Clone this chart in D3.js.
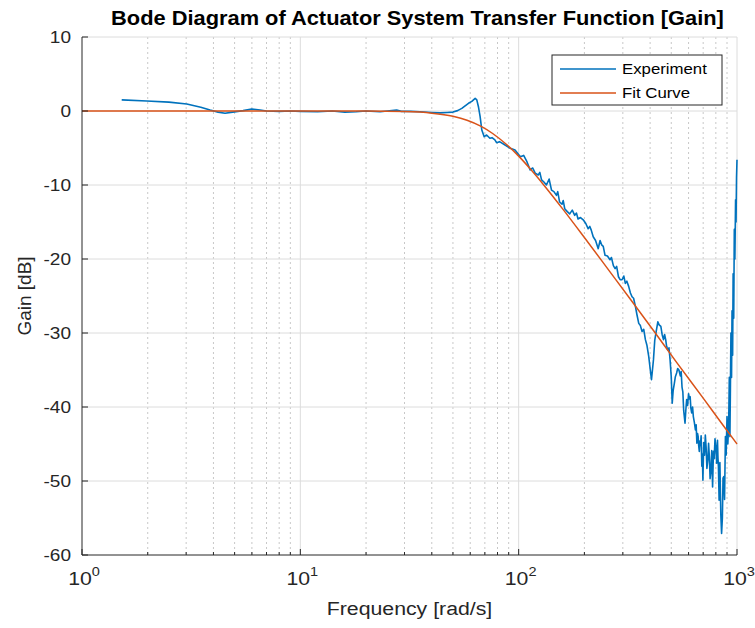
<!DOCTYPE html>
<html>
<head>
<meta charset="utf-8">
<script src="https://cdn.jsdelivr.net/npm/d3@7"></script>
<style>
  body { margin: 0; background: #fff; }
  svg { font-family: "Liberation Sans", Arial, Helvetica, sans-serif; }
</style>
</head>
<body>
<div id="plot"></div>
<script>
// measured experiment (frequency in rad/s, gain in dB)
var expFreq = [1.52, 1.98, 2.5, 3.02, 3.5, 3.86, 4.2, 4.52, 4.9, 5.47, 5.99, 6.54, 7.0, 8.0, 9.0, 10, 12, 14, 16, 18, 20,
  23.2, 25, 27.6, 29, 32, 35.3, 40, 43.6, 47, 50, 52.5, 54.9, 58.9, 61, 63.2, 64.3, 65.5, 66.6, 67.8, 69.5, 71.3,
  73.8, 75.5, 77.8, 79.2, 81.7, 86.6, 91.5, 96.2, 101.8, 105.4, 109.1, 112.9, 116, 119, 122.9, 125, 127.3, 130.5, 134,
  137.9, 141.4, 145, 149, 151, 154, 158, 160, 162.5, 167, 171.3, 176, 180.6, 184, 187, 192, 197.5, 203, 208, 211.8, 215, 219.5, 225,
  231.4, 236, 240, 244, 248.7, 255, 262, 266, 271.5, 276.5, 281, 286.5, 291.6, 297.5, 303, 308, 313, 319, 325, 330.6, 336, 342.5, 348, 354.8,
  361, 367.4, 374, 380.6, 387, 394.3, 400, 405.8, 410, 414.4, 420, 425.3, 433.9, 440, 447.9, 454, 460.4, 466, 471.4, 476,
  481.9, 488, 493.7, 500, 505, 510, 516.5, 522, 529, 535, 542, 550, 555, 560, 565, 570, 578, 583, 588, 594, 600, 605, 610, 615, 620, 626, 631, 638, 645, 650, 655, 660, 664, 668, 672,
  676, 680, 685, 690, 694, 698, 704, 710, 716, 722, 728, 735, 741, 747, 753, 760, 766, 773, 780, 786, 793, 800, 807, 814, 818, 822, 828, 835, 843, 850, 857, 863, 870, 877, 885, 892, 900, 908, 916, 922,
  928, 932, 938, 944, 949, 955, 960, 966, 972, 978, 985, 990, 995, 1000];
var expGain = [1.5, 1.35, 1.2, 0.95, 0.5, 0.13, -0.15, -0.3, -0.15, 0.05, 0.27, 0.13, 0.0, -0.05, 0.0, -0.05, -0.1, 0.0, -0.15, -0.1, 0.0,
  -0.1, 0.0, 0.13, -0.05, -0.05, -0.1, -0.2, -0.25, -0.2, -0.15, 0.05, 0.36, 1.04, 1.3, 1.7, 1.5, 0.5, -0.77, -2.57, -3.47, -3.24,
  -3.69, -3.6, -3.9, -4.28, -4.14, -4.6, -5.04, -5.27, -6.18, -6.0, -6.85, -7.97, -7.7, -8.4, -8.65, -8.3, -9.3, -9.6, -10.0,
  -9.2, -10.7, -10.9, -11.4, -10.9, -12.3, -12.6, -12.1, -13.2, -13.6, -13.9, -13.4, -14.1, -13.8, -14.6, -14.4, -14.7, -15.2, -15.9, -15.6, -16.1, -17, -17.5,
  -18.6, -17.5, -18.1, -18.3, -19.5, -19.6, -20.1, -19.8, -20.9, -21.3, -21.0, -22.4, -22.8, -22.8, -22.3, -23.3, -23.0, -23.7, -24.6, -25.1, -25.3, -26.4, -27.5, -28.7,
  -29.0, -29.8, -29.5, -30.9, -31.7, -33.2, -34.8, -36.3, -35.0, -33.6, -31.0, -30.0, -28.5, -28.9, -29.1, -30.2, -30.9, -30.2, -30.9, -31.8,
  -32.3, -32.0, -33.6, -36.0, -39.5, -37.8, -36.8, -35.9, -35.4, -34.8, -35.0, -35.8, -35.2, -37.3, -38.0, -40.5, -42.2, -40.4, -39.0, -39.8, -38.2, -38.9, -38.6, -40.2, -40.8, -40.0, -41.3, -42.1, -43.1, -42.4, -44.9, -43.6, -44.0, -45.3, -46.0,
  -44.6, -45.2, -43.9, -48.0, -46.4, -49.9, -44.8, -46.5, -43.8, -45.4, -48.3, -47.2, -44.9, -46.7, -49.7, -48.5, -45.9, -50.8, -46.0, -47.0, -44.3, -45.4, -47.6, -44.5, -46.8, -48.0, -52.6, -47.5, -54.5, -57.1, -55.0, -49.6, -49.4, -52.5, -44.0, -46.5, -41.3, -45.0, -42.2, -36,
  -44, -38.6, -30, -36, -27, -33, -22, -28, -16, -20, -12, -15, -9, -6.6];

// fitted curve
var fitFreq = [1, 10, 20, 30, 40, 50, 58, 67, 76, 88, 100, 115, 130, 160, 200, 260, 330, 420, 530, 700, 870, 1000];
var fitGain = [0, 0, -0.01, -0.08, -0.29, -0.72, -1.25, -2.05, -3.04, -4.53, -6.1, -8.08, -9.96, -13.33, -17.1, -21.6, -25.7, -29.9, -34.0, -38.8, -42.6, -45.0];

var yTicks = [10, 0, -10, -20, -30, -40, -50, -60];
var xDecades = [1, 10, 100, 1000];
var legendNames = ["Experiment", "Fit Curve"];
var colors = ["#0072BD", "#D95319"];

var W = 755, H = 628;
var margin = {top: 37, left: 82, right: 18, bottom: 73};
var iw = W - margin.left - margin.right, ih = H - margin.top - margin.bottom;
var sx = 1.12; // text in the picture is a bit wide

var svg = d3.select("#plot").append("svg").attr("width", W).attr("height", H);
var g = svg.append("g").attr("transform", "translate(" + margin.left + "," + margin.top + ")");

var x = d3.scaleLog().domain([1, 1000]).range([0, iw]);
var y = d3.scaleLinear().domain([-60, 10]).range([ih, 0]);

// minor ticks 2..9 of each decade
var minor = [];
xDecades.slice(0, 3).forEach(function(d) {
  for (var k = 2; k <= 9; k++) minor.push(d * k);
});

// grid
g.selectAll(".minorGrid").data(minor).enter().append("line")
  .attr("x1", d => x(d)).attr("x2", d => x(d)).attr("y1", 0).attr("y2", ih)
  .attr("stroke", "#c8c8c8").attr("stroke-dasharray", "2,3").attr("stroke-width", 1);
g.selectAll(".xGrid").data(xDecades.slice(1)).enter().append("line")
  .attr("x1", d => x(d)).attr("x2", d => x(d)).attr("y1", 0).attr("y2", ih)
  .attr("stroke", "#dcdcdc").attr("stroke-width", 1);
g.selectAll(".yGrid").data(yTicks.slice(0, -1)).enter().append("line")
  .attr("x1", 0).attr("x2", iw).attr("y1", d => y(d)).attr("y2", d => y(d))
  .attr("stroke", "#dcdcdc").attr("stroke-width", 1);

// curves
var line = d3.line().x(d => x(d[0])).y(d => y(d[1]));
var expData = expFreq.map((f, i) => [f, expGain[i]]);
var fitData = fitFreq.map((f, i) => [f, fitGain[i]]);

g.append("path").datum(expData).attr("d", line).attr("fill", "none")
  .attr("stroke", colors[0]).attr("stroke-width", 1.6).attr("stroke-linejoin", "round");
g.append("path").datum(fitData).attr("d", line.curve(d3.curveMonotoneX)).attr("fill", "none")
  .attr("stroke", colors[1]).attr("stroke-width", 1.5);

// axes
var axisCol = "#262626";
g.append("line").attr("x1", 0).attr("x2", 0).attr("y1", 0).attr("y2", ih).attr("stroke", axisCol);
g.append("line").attr("x1", 0).attr("x2", iw).attr("y1", ih).attr("y2", ih).attr("stroke", axisCol);

g.selectAll(".ytick").data(yTicks).enter().append("line")
  .attr("x1", 0).attr("x2", 6).attr("y1", d => y(d)).attr("y2", d => y(d)).attr("stroke", axisCol);
g.selectAll(".ylab").data(yTicks).enter().append("text")
  .attr("transform", d => "translate(-11," + y(d) + ") scale(" + sx + ",1)").attr("dy", "0.35em")
  .attr("text-anchor", "end").attr("font-size", 17).attr("fill", axisCol)
  .text(d => d);

g.selectAll(".xtick").data(xDecades).enter().append("line")
  .attr("x1", d => x(d)).attr("x2", d => x(d)).attr("y1", ih).attr("y2", ih - 6).attr("stroke", axisCol);
g.selectAll(".xminortick").data(minor).enter().append("line")
  .attr("x1", d => x(d)).attr("x2", d => x(d)).attr("y1", ih).attr("y2", ih - 3).attr("stroke", axisCol);

var xl = g.selectAll(".xlab").data(xDecades).enter().append("text")
  .attr("transform", d => "translate(" + (x(d) + 2) + "," + (ih + 30) + ") scale(" + sx + ",1)")
  .attr("text-anchor", "middle").attr("font-size", 19).attr("fill", axisCol);
xl.append("tspan").text("10");
xl.append("tspan").attr("dy", -9).attr("font-size", 13).text(d => Math.round(Math.log10(d)));

// labels
svg.append("text").attr("transform", "translate(" + (margin.left + iw / 2) + ",615) scale(" + sx + ",1)")
  .attr("text-anchor", "middle").attr("font-size", 19).attr("fill", axisCol)
  .text("Frequency [rad/s]");
svg.append("text").attr("transform", "translate(31," + (margin.top + ih / 2) + ") rotate(-90)")
  .attr("text-anchor", "middle").attr("font-size", 19).attr("fill", axisCol)
  .text("Gain [dB]");
svg.append("text").attr("transform", "translate(" + (margin.left + iw / 2 + 8) + ",25) scale(" + sx + ",1)")
  .attr("text-anchor", "middle").attr("font-size", 19.5).attr("font-weight", "bold").attr("fill", "#000")
  .text("Bode Diagram of Actuator System Transfer Function [Gain]");

// legend
var lg = svg.append("g").attr("transform", "translate(552,55)");
lg.append("rect").attr("width", 170).attr("height", 50).attr("fill", "#fff").attr("stroke", "#262626").attr("stroke-width", 1);
legendNames.forEach(function(n, i) {
  lg.append("line").attr("x1", 8).attr("x2", 64).attr("y1", 14 + i * 24).attr("y2", 14 + i * 24)
    .attr("stroke", colors[i]).attr("stroke-width", 1.5);
  lg.append("text").attr("transform", "translate(70," + (14 + i * 24) + ") scale(" + sx + ",1)").attr("dy", "0.35em")
    .attr("font-size", 15).attr("fill", "#000").text(n);
});
</script>
</body>
</html>
